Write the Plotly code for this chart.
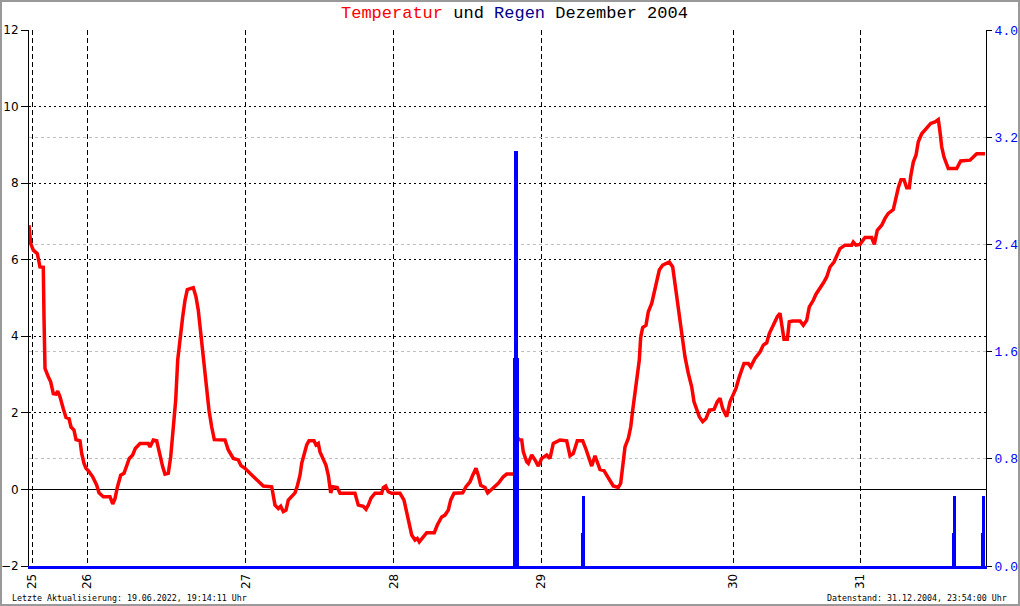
import plotly.graph_objects as go

# ---------------- data ----------------
# sample index along the (non-linear) time axis
temp_idx = [0, 1.7, 4.3, 8.3, 11, 14.3, 15, 16, 19.3, 21.7, 24.3, 27, 28.7, 31, 34.3, 37, 40, 42, 45, 47,
            51, 52.7, 55, 57, 59.3, 63.7, 67.7, 70, 74.3, 81, 83.7, 86, 88.3, 91.7, 95, 97, 100.3, 103.7,
            106.3, 111, 119.3, 121, 124.3, 127.7, 130.3, 133.7, 136, 139.3, 141.7, 144.3, 146.7, 148.7,
            151, 153.7, 156, 158.3, 164.3, 167, 169.3, 171.7, 174.3, 177, 180, 182.7, 185.3, 196, 199.3,
            204.3, 209.3, 212, 216, 221, 226, 229.3, 234.3, 242.7, 244.3, 246, 249.3, 251.7, 254.3, 257,
            259.3, 262.7, 266, 268.3, 271, 272.7, 275, 277.7, 280, 285, 287, 289.3, 291, 294.3, 297, 299.3,
            301.7, 303.7, 308.3, 311, 326, 329.3, 334.3, 337, 339.3, 342, 346, 352.7, 354.3, 356.7, 359.3,
            362.7, 371, 375, 377.7, 380.3, 382.7, 386, 388.3, 390.3, 392.7, 397.7, 405.3, 408.3, 412.7, 416,
            419.3, 421.7, 425, 433.7, 437, 441, 443.7, 447, 449.3, 451.7, 456, 458.7, 461.7, 466, 469.3,
            474.3, 477.7, 486, 487.7, 490.3, 492.7, 494.3, 497.7, 499.3, 502.7, 506, 509.3, 512.7, 517.7,
            521, 524.3, 531, 537.7, 541, 544.3, 548.3, 553.7, 557, 560.3, 562.7, 566, 568.3, 571, 575,
            578.3, 581.7, 584.3, 589.3, 591.7, 593.7, 596, 599.3, 601.7, 603.7, 606, 608.3, 610.3, 611.7,
            613.7, 617, 619.3, 622.7, 625, 627.7, 630.3, 633.7, 637.7, 640.3, 643.7, 646, 648.3, 651, 653.3,
            656, 659.3, 662.7, 665, 667.7, 670.3, 673.7, 677, 680.3, 685, 688.3, 691, 693.7, 697.7, 701,
            704.3, 707, 710.3, 715, 719.3, 721.7, 726, 731, 734.3, 737.7, 740.3, 744.3, 748.3, 751, 753.3,
            755, 758.3, 760.3, 763.7, 771, 774.3, 777.7, 780.3, 784.3, 787, 791, 794.3, 797.7, 801, 805,
            807.7, 811, 816, 822.7, 824.3, 827, 831, 836, 842.7, 845.3, 848.3, 852.7, 856, 859.3, 864.3,
            867, 869.3, 872, 875, 877.7, 880.3, 881.7, 884.3, 887, 889.3, 892.7, 897.7, 901.7, 906, 909.3,
            911, 912.7, 915, 919.3, 927.7, 931.7, 941, 944.3, 947.7, 956]

temperatur = [6.9, 6.42, 6.25, 6.16, 5.81, 5.8, 4.5, 3.16, 2.94, 2.81, 2.5, 2.49, 2.57, 2.42, 2.11, 1.88,
              1.85, 1.63, 1.55, 1.3, 1.27, 0.94, 0.68, 0.55, 0.49, 0.33, 0.11, -0.09, -0.19, -0.19, -0.38,
              -0.24, 0.05, 0.37, 0.42, 0.59, 0.81, 0.9, 1.07, 1.2, 1.2, 1.11, 1.29, 1.27, 0.94, 0.59, 0.4,
              0.42, 0.85, 1.55, 2.33, 3.38, 3.98, 4.51, 4.94, 5.22, 5.27, 5.03, 4.68, 4.07, 3.38, 2.68,
              2.07, 1.63, 1.3, 1.29, 1.03, 0.81, 0.77, 0.62, 0.55, 0.42, 0.29, 0.2, 0.09, 0.07, -0.19,
              -0.41, -0.5, -0.44, -0.58, -0.54, -0.28, -0.19, -0.09, 0.09, 0.37, 0.68, 0.94, 1.16, 1.27,
              1.27, 1.16, 1.2, 0.98, 0.81, 0.63, 0.37, -0.09, 0.07, 0.05, -0.1, -0.1, -0.41, -0.44, -0.52,
              -0.41, -0.23, -0.1, -0.1, 0.05, 0.09, -0.06, -0.1, -0.1, -0.28, -0.63, -0.98, -1.19, -1.32,
              -1.28, -1.37, -1.28, -1.13, -1.13, -0.93, -0.72, -0.67, -0.54, -0.28, -0.1, -0.09, 0.07, 0.2,
              0.37, 0.55, 0.37, 0.11, 0.05, -0.09, -0.02, 0.07, 0.16, 0.33, 0.4, 0.4, 1.37, 1.3, 1.29,
              0.98, 0.72, 0.68, 0.9, 0.77, 0.61, 0.81, 0.9, 0.81, 1.2, 1.29, 1.27, 0.88, 0.94, 1.27, 1.27,
              1.05, 0.77, 0.61, 0.88, 0.68, 0.52, 0.49, 0.33, 0.2, 0.09, 0.05, 0.16, 0.55, 1.11, 1.33,
              1.63, 2.07, 2.59, 2.94, 3.38, 3.98, 4.23, 4.29, 4.64, 4.86, 5.12, 5.46, 5.73, 5.86, 5.9, 5.94,
              5.81, 5.38, 4.86, 4.33, 3.94, 3.46, 3.03, 2.68, 2.29, 2.07, 1.9, 1.77, 1.85, 2.07, 2.09, 2.29,
              2.38, 2.11, 1.9, 2.29, 2.46, 2.64, 2.94, 3.29, 3.29, 3.2, 3.42, 3.59, 3.77, 3.83, 4.07, 4.29,
              4.51, 4.6, 4.25, 3.92, 3.92, 4.38, 4.4, 4.4, 4.29, 4.42, 4.77, 4.94, 5.1, 5.25, 5.39, 5.55,
              5.81, 5.94, 6.12, 6.29, 6.38, 6.38, 6.46, 6.38, 6.4, 6.58, 6.58, 6.4, 6.77, 6.9, 7.08, 7.21,
              7.31, 7.64, 7.88, 8.09, 8.09, 7.88, 7.88, 8.18, 8.55, 8.73, 9.08, 9.29, 9.43, 9.56, 9.6, 9.66,
              9.34, 8.95, 8.68, 8.38, 8.38, 8.58, 8.6, 8.68, 8.77, 8.77]

regen_idx = [485, 486.5, 488, 489.5, 552.75, 554.25, 555.5, 923.75, 925.25, 926.0, 952.75, 954.25, 955.5]
regen = [1.55, 3.1, 3.1, 1.55, 0.25, 0.52, 0.52, 0.25, 0.52, 0.52, 0.25, 0.52, 0.52]

day_idx = [3.3, 58.3, 216.7, 364.7, 512.3, 704.3, 831.3]
day_labels = ["25", "26", "27", "28", "29", "30", "31"]

temp_ticks = [-2, 0, 2, 4, 6, 8, 10, 12]
rain_ticks = [0.0, 0.8, 1.6, 2.4, 3.2, 4.0]

# ---------------- figure ----------------
W, H = 1020, 606
ML, MR, MT, MB = 29, 34, 30, 40
PW, PH = W - ML - MR, H - MT - MB


def px_x(p):
    return (p - ML) / PW


def px_y(p):
    return (H - MB - p) / PH


fig = go.Figure()

fig.add_trace(go.Bar(
    x=regen_idx, y=regen, yaxis="y2", width=1.5,
    marker=dict(color="#0000ff", line=dict(width=0)),
    hoverinfo="skip", showlegend=False,
))

fig.add_trace(go.Scatter(
    x=temp_idx, y=temperatur, mode="lines",
    line=dict(color="#ff0000", width=3.5),
    showlegend=False,
))

fig.update_layout(
    width=W, height=H, autosize=False,
    margin=dict(l=ML, r=MR, t=MT, b=MB, pad=0, autoexpand=False),
    paper_bgcolor="white", plot_bgcolor="white",
    showlegend=False, bargap=0, barmode="overlay",
    xaxis=dict(
        range=[0, PW], tickmode="array", tickvals=day_idx, ticktext=day_labels,
        tickangle=-90, ticks="", showgrid=True, gridcolor="black", gridwidth=1,
        griddash="5px,3px", zeroline=False, showline=True, linecolor="#0000ff",
        linewidth=3, tickfont=dict(family="DejaVu Sans", size=12, color="black"),
        fixedrange=True, automargin=False,
    ),
    yaxis=dict(
        range=[-2, 12], tickmode="array", tickvals=temp_ticks,
        ticks="outside", ticklen=7, tickcolor="black", showline=True,
        linecolor="black", linewidth=1, showgrid=True, gridcolor="black",
        gridwidth=1, griddash="2px,3px", zeroline=True, zerolinecolor="black",
        zerolinewidth=1, tickfont=dict(family="DejaVu Sans", size=12, color="black"),
        fixedrange=True, automargin=False,
    ),
    yaxis2=dict(
        overlaying="y", side="right", range=[0, 4.0], tickmode="array",
        tickvals=rain_ticks, ticktext=[f"{v:.1f}" for v in rain_ticks],
        ticks="outside", ticklen=5, tickcolor="black", showline=True,
        linecolor="black", linewidth=1, showgrid=True, gridcolor="#c0c0c0",
        gridwidth=1, griddash="3px,3px", zeroline=False,
        tickfont=dict(family="Liberation Mono", size=13, color="#0000ff"),
        fixedrange=True, automargin=False,
    ),
)

fig.add_annotation(
    x=px_x(514.5), y=px_y(13), xref="paper", yref="paper",
    xanchor="center", yanchor="middle", showarrow=False,
    text="<span style='color:#ff0000'>Temperatur</span> und "
         "<span style='color:#00008b'>Regen</span> Dezember 2004",
    font=dict(family="Liberation Mono", size=17, color="black"),
)
fig.add_annotation(
    x=px_x(10), y=px_y(598), xref="paper", yref="paper",
    xanchor="left", yanchor="middle", showarrow=False,
    text="Letzte Aktualisierung: 19.06.2022, 19:14:11 Uhr",
    font=dict(family="DejaVu Sans Mono", size=8.3, color="black"),
)
fig.add_annotation(
    x=px_x(1009), y=px_y(598), xref="paper", yref="paper",
    xanchor="right", yanchor="middle", showarrow=False,
    text="Datenstand: 31.12.2004, 23:54:00 Uhr",
    font=dict(family="DejaVu Sans Mono", size=8.3, color="black"),
)

# outer gray frame of the picture
fig.add_shape(
    type="rect", xref="paper", yref="paper",
    x0=px_x(1), x1=px_x(1019), y0=px_y(605), y1=px_y(1),
    line=dict(color="#999999", width=2), layer="above",
)

fig.write_html(
    "out.html",
    config={"displayModeBar": False},
    post_script="document.body.style.margin='0';document.body.style.overflow='hidden';",
)
